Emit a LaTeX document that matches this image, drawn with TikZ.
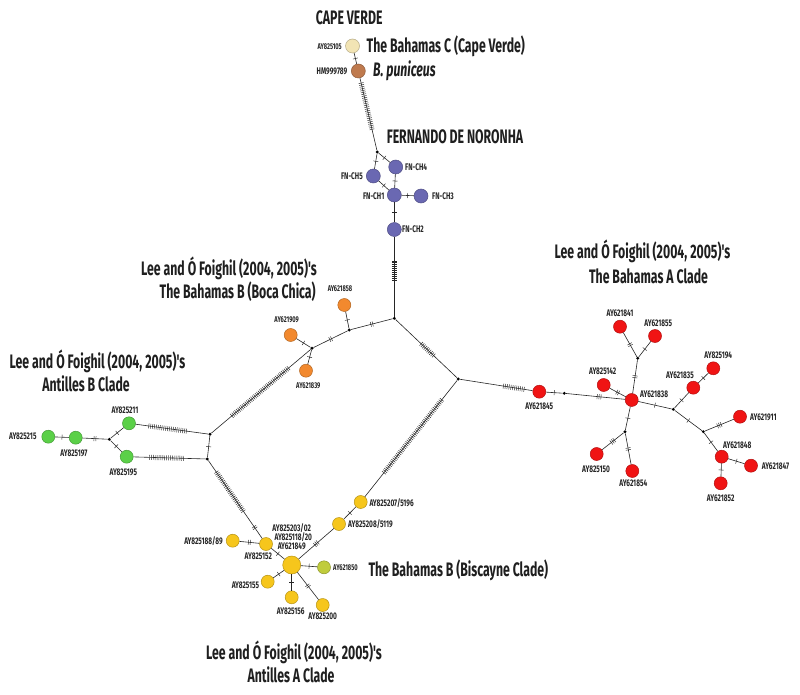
\documentclass[tikz,border=0pt]{standalone}
\usepackage{fontspec}
\newfontfamily\cf[FakeStretch=0.68]{Fira Sans}
\newfontfamily\cft[FakeStretch=0.63]{Fira Sans}
\usetikzlibrary{decorations.markings}
\definecolor{cream}{HTML}{F2E4B4}
\definecolor{brownn}{HTML}{BF7A4E}
\definecolor{slate}{HTML}{6A68B2}
\definecolor{orng}{HTML}{F2892E}
\definecolor{grn}{HTML}{5BD048}
\definecolor{yel}{HTML}{F6C61C}
\definecolor{olv}{HTML}{C0CC3C}
\definecolor{redd}{HTML}{F01414}
\tikzset{
  hap/.style 2 args={circle, fill=#1, draw=#1!75!black, line width=0.5pt, minimum size=#2, inner sep=0pt},
  jn/.style={circle, fill=black, minimum size=3.2pt, inner sep=0pt},
  edge/.style={draw=black!85, line width=0.6pt},
  lab/.style={font=\cf\bfseries\fontsize{9.6}{10}\selectfont, inner sep=0pt, text=black!85},
  labs/.style={font=\cf\bfseries\fontsize{8.4}{9}\selectfont, inner sep=0pt, text=black!85},
  ttl/.style={font=\cft\bfseries\fontsize{19.5}{22}\selectfont, inner sep=0pt, text=black!88},
  tk/.style 2 args={postaction={decorate,decoration={markings,mark=at position #2 with {\foreach \k in {1,...,#1}{\draw[line width=0.45pt,black!85] ({(\k-(#1+1)/2)*1.9pt},-2.5pt) -- ++(0pt,5pt);}}}}},
  t1/.style={tk={1}{0.5}},
  t2/.style={tk={2}{0.5}},
  t3/.style={tk={3}{0.5}}
}
\begin{document}
\begin{tikzpicture}[x=1pt,y=-1pt]
\path[use as bounding box, fill=white] (0,0) rectangle (800,695);

% ---------- haplotypes ----------
% Cape Verde / puniceus
\node[hap={cream}{14pt}] (cv) at (352.5,46) {};
\node[hap={brownn}{14pt}] (hm) at (358.3,71) {};
\node[jn] (j1) at (377.3,152) {};
% Fernando de Noronha
\node[hap={slate}{14pt}] (fn5) at (373.3,176) {};
\node[hap={slate}{14pt}] (fn4) at (395.7,167) {};
\node[hap={slate}{14pt}] (fn1) at (394.3,195) {};
\node[hap={slate}{14pt}] (fn3) at (421,196) {};
\node[hap={slate}{14pt}] (fn2) at (394.3,229.5) {};
\node[jn] (j2) at (394.3,318.3) {};
% Boca Chica
\node[jn] (j3) at (349.3,330) {};
\node[hap={orng}{13pt}] (o58) at (344.3,305) {};
\node[hap={orng}{13pt}] (o09) at (290.7,335) {};
\node[jn] (j4) at (312,348.3) {};
\node[hap={orng}{13pt}] (o39) at (306,370.7) {};
% Antilles B
\node[hap={grn}{13pt}] (g15) at (48.3,436.7) {};
\node[hap={grn}{13pt}] (g97) at (75.7,437.7) {};
\node[jn] (j7) at (109.3,439.3) {};
\node[hap={grn}{13pt}] (g11) at (129,423.3) {};
\node[hap={grn}{13pt}] (g95) at (126.7,456.7) {};
\node[jn] (j5) at (210,434.3) {};
\node[jn] (j8) at (207.3,459) {};
% Antilles A
\node[jn] (j6) at (458.3,379) {};
\node[hap={yel}{13pt}] (y07) at (360.7,502) {};
\node[hap={yel}{13pt}] (y08) at (339,524) {};
\node[hap={yel}{18pt}] (c) at (291.7,565) {};
\node[hap={yel}{13pt}] (y52) at (266,544) {};
\node[hap={yel}{13pt}] (y88) at (232.7,540.7) {};
\node[hap={olv}{13pt}] (y50) at (324,567.3) {};
\node[hap={yel}{13pt}] (y55) at (267.7,581.7) {};
\node[hap={yel}{13pt}] (y56) at (291.7,597.3) {};
\node[hap={yel}{13pt}] (y00) at (322.7,605) {};
% Bahamas A
\node[hap={redd}{13pt}] (r45) at (539.3,391.7) {};
\node[jn] (j9) at (564.3,393.3) {};
\node[hap={redd}{13pt}] (r) at (631.7,400) {};
\node[hap={redd}{13pt}] (r42) at (603.7,385) {};
\node[jn] (j10) at (637.7,358.3) {};
\node[hap={redd}{13pt}] (r41) at (620,326.7) {};
\node[hap={redd}{13pt}] (r55) at (655,336) {};
\node[jn] (j11) at (673.3,409.3) {};
\node[hap={redd}{13pt}] (r35) at (693.3,387.7) {};
\node[hap={redd}{13pt}] (r94) at (713.3,368.3) {};
\node[jn] (j12) at (703.3,431.7) {};
\node[hap={redd}{13pt}] (r11) at (740,416.7) {};
\node[hap={redd}{13pt}] (r48) at (721.7,456.7) {};
\node[hap={redd}{13pt}] (r47) at (751,465.7) {};
\node[hap={redd}{13pt}] (r52) at (720.7,483.3) {};
\node[jn] (j13) at (625,431.7) {};
\node[hap={redd}{13pt}] (r50) at (596.7,454) {};
\node[hap={redd}{13pt}] (r54) at (632.3,471) {};

% ---------- connectors ----------
\draw[edge,t1] (cv) -- (hm);
\draw[edge,tk={26}{0.39}] (hm) -- (j1);
\draw[edge,t1] (j1) -- (fn5);
\draw[edge,t1] (j1) -- (fn4);
\draw[edge,t1] (fn5) -- (fn1);
\draw[edge,t1] (fn4) -- (fn1);
\draw[edge,t1] (fn1) -- (fn3);
\draw[edge,t1] (fn1) -- (fn2);
\draw[edge,tk={11}{0.42}] (fn2) -- (j2);

\draw[edge,t2] (j3) -- (j2);
\draw[edge,t1] (j3) -- (o58);
\draw[edge,t2] (j4) -- (j3);
\draw[edge,t1] (o09) -- (j4);
\draw[edge,t1] (j4) -- (o39);
\draw[edge,tk={40}{0.51}] (j4) -- (j5);
\draw[edge,tk={10}{0.52}] (j2) -- (j6);

\draw[edge,t1] (g15) -- (g97);
\draw[edge,t2] (g97) -- (j7);
\draw[edge,t1] (j7) -- (g11);
\draw[edge,t1] (j7) -- (g95);
\draw[edge,tk={21}{0.44}] (g11) -- (j5);
\draw[edge,tk={19}{0.46}] (g95) -- (j8);
\draw[edge,t1] (j5) -- (j8);

\draw[edge,tk={26}{0.4},tk={2}{0.86}] (j8) -- (y52);
\draw[edge,t2] (y88) -- (y52);
\draw[edge,t1] (y52) -- (c);
\draw[edge,t3] (c) -- (y08);
\draw[edge,t1] (y08) -- (y07);
\draw[edge,tk={50}{0.52}] (y07) -- (j6);
\draw[edge,t1] (c) -- (y50);
\draw[edge,t1] (c) -- (y55);
\draw[edge,t1] (c) -- (y56);
\draw[edge,t2] (c) -- (y00);

\draw[edge,tk={12}{0.74}] (j6) -- (r45);
\draw[edge,t1] (r45) -- (j9);
\draw[edge,tk={3}{0.56}] (j9) -- (r);
\draw[edge,t2] (r42) -- (r);
\draw[edge,t2] (r) -- (j10);
\draw[edge,t2] (j10) -- (r41);
\draw[edge,t1] (j10) -- (r55);
\draw[edge,t1] (r) -- (j11);
\draw[edge,t1] (j11) -- (r35);
\draw[edge,t1] (r35) -- (r94);
\draw[edge,t1] (j11) -- (j12);
\draw[edge,t3] (j12) -- (r11);
\draw[edge,t1] (j12) -- (r48);
\draw[edge,t1] (r48) -- (r47);
\draw[edge,t1] (r48) -- (r52);
\draw[edge,t1] (r) -- (j13);
\draw[edge,t3] (j13) -- (r50);
\draw[edge,t2] (j13) -- (r54);

% ---------- labels ----------
\node[labs,anchor=east] (lcv) at (342,46.5) {AY825105};
\node[lab,anchor=east] (lhm) at (347.5,71) {HM999789};
\node[lab,anchor=west] (lfn4) at (405,167) {FN-CH4};
\node[lab,anchor=east] (lfn5) at (363,176) {FN-CH5};
\node[lab,anchor=east] (lfn1) at (384.5,196) {FN-CH1};
\node[lab,anchor=west] (lfn3) at (432,196) {FN-CH3};
\node[lab,anchor=west] (lfn2) at (402,229.5) {FN-CH2};

\node[labs] (lo58) at (340,288.3) {AY621858};
\node[labs] (lo09) at (286.7,320) {AY621909};
\node[labs] (lo39) at (308.3,386) {AY621839};

\node[lab,anchor=east] (lg15) at (36.7,436.7) {AY825215};
\node[lab] (lg97) at (74,453.3) {AY825197};
\node[lab] (lg11) at (125,410.7) {AY825211};
\node[lab] (lg95) at (123.3,472.7) {AY825195};

\node[lab,anchor=west] (ly07) at (369.3,503.5) {AY825207/5196};
\node[lab,anchor=west] (ly08) at (348,524.5) {AY825208/5119};
\node[lab,anchor=east] (ly88) at (223,541) {AY825188/89};
\node[lab] (ly52) at (258.3,556.7) {AY825152};
\node[lab] (lc1) at (291.7,528.3) {AY825203/02};
\node[lab] (lc2) at (293.3,537) {AY825118/20};
\node[lab] (lc3) at (291.7,546) {AY621849};
\node[labs,anchor=west] (ly50) at (333,567.5) {AY621850};
\node[lab,anchor=east] (ly55) at (259.3,585) {AY825155};
\node[lab] (ly56) at (290.7,611) {AY825156};
\node[lab] (ly00) at (322.7,616.7) {AY825200};

\node[lab] (lr45) at (539.3,406.7) {AY621845};
\node[lab,anchor=west] (lr) at (640,394) {AY621838};
\node[lab] (lr42) at (602.7,371.7) {AY825142};
\node[lab] (lr41) at (620,313.3) {AY621841};
\node[lab] (lr55) at (658.3,323.3) {AY621855};
\node[lab] (lr35) at (680,375) {AY621835};
\node[lab] (lr94) at (718.3,355) {AY825194};
\node[lab,anchor=west] (lr11) at (750,417) {AY621911};
\node[lab] (lr48) at (737.3,445) {AY621848};
\node[lab,anchor=west] (lr47) at (761.7,466) {AY621847};
\node[lab] (lr52) at (720.7,498.3) {AY621852};
\node[lab] (lr50) at (596,469) {AY825150};
\node[lab] (lr54) at (633.3,483.3) {AY621854};

% ---------- titles ----------
\node[ttl] (tcv) at (349.2,17.3) {CAPE VERDE};
\node[ttl,anchor=west] (tcvb) at (366.5,46) {The Bahamas C (Cape Verde)};
\node[ttl,anchor=west] (tpun) at (373,71) {\itshape B. puniceus};
\node[ttl] (tfn) at (455,137) {FERNANDO DE NORONHA};
\node[ttl] (tbc1) at (229,268.3) {Lee and Ó Foighil (2004, 2005)'s};
\node[ttl] (tbc2) at (237.7,291.7) {The Bahamas B (Boca Chica)};
\node[ttl] (tab1) at (97.5,361.7) {Lee and Ó Foighil (2004, 2005)'s};
\node[ttl] (tab2) at (86,384) {Antilles B Clade};
\node[ttl] (tba1) at (642.5,251.7) {Lee and Ó Foighil (2004, 2005)'s};
\node[ttl] (tba2) at (648.5,276.7) {The Bahamas A Clade};
\node[ttl] (taa1) at (294,652.3) {Lee and Ó Foighil (2004, 2005)'s};
\node[ttl] (taa2) at (291,674.3) {Antilles A Clade};
\node[ttl,anchor=west] (tbis) at (368.3,570) {The Bahamas B (Biscayne Clade)};
\end{tikzpicture}
\end{document}
